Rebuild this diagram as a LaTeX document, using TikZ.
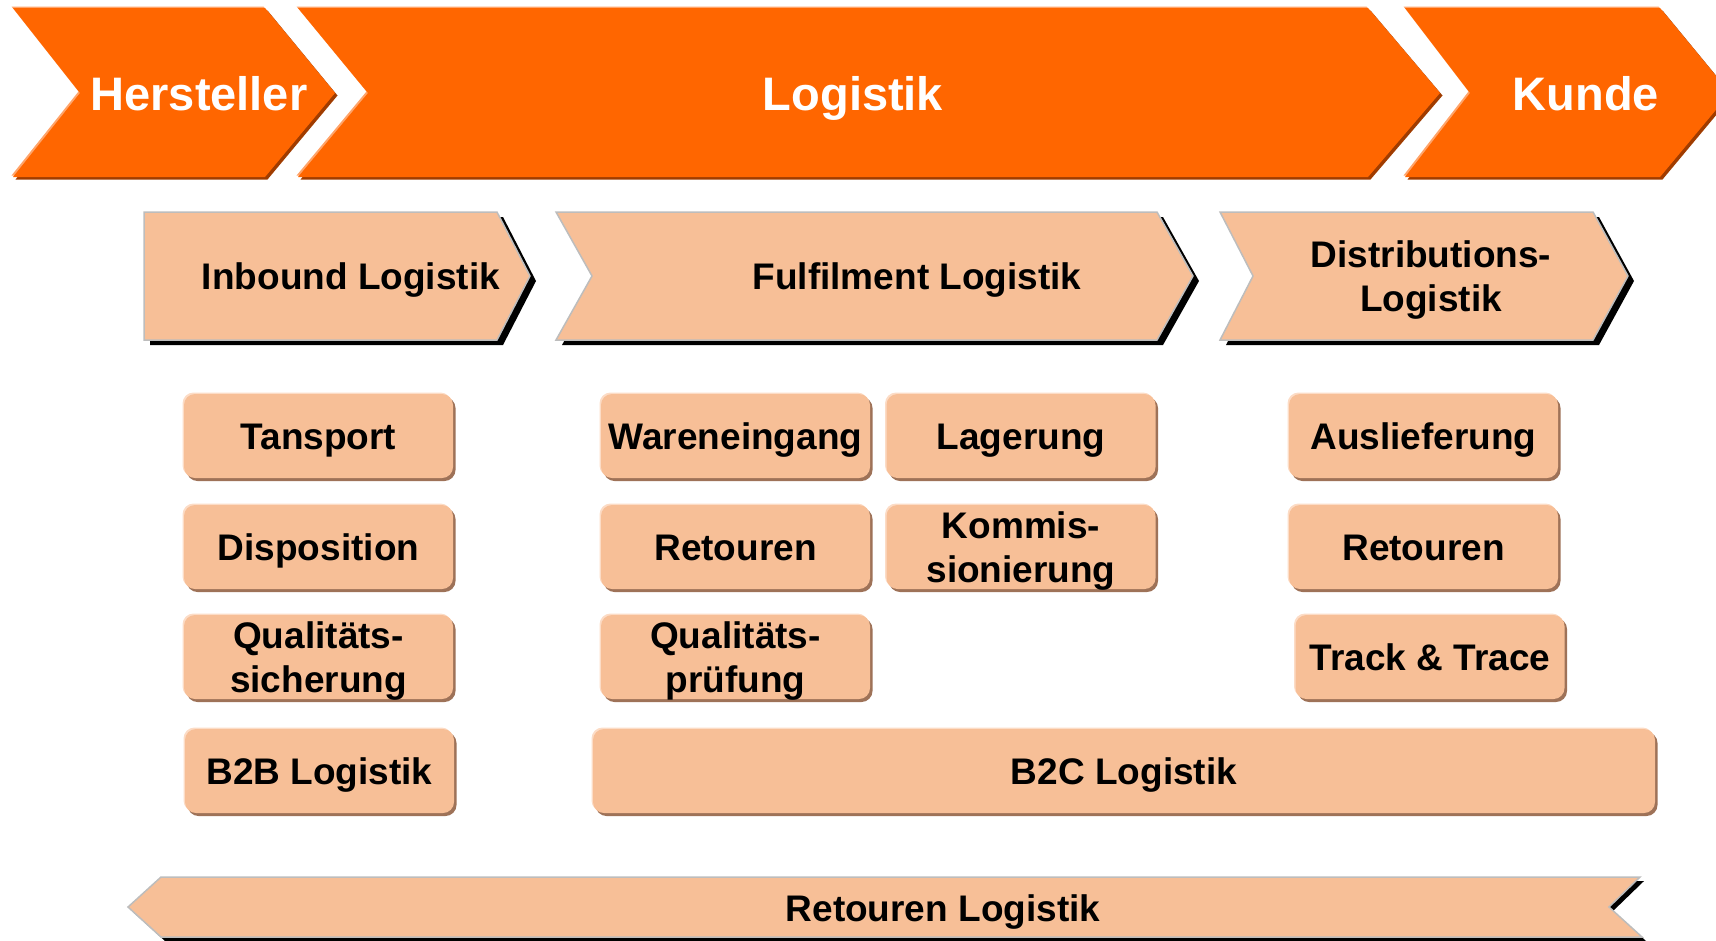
\documentclass[tikz,border=0pt]{standalone}
\usepackage{fontspec}
\setmainfont{Liberation Sans}
\usetikzlibrary{shadows}
\definecolor{orng}{HTML}{FF6600}
\definecolor{orngdark}{HTML}{A03C00}
\definecolor{ornglight}{HTML}{FFA46A}
\definecolor{peach}{HTML}{F7BF97}
\definecolor{peachdark}{HTML}{9E7258}
\definecolor{peachlight}{HTML}{FCDCC6}
\definecolor{chevborder}{HTML}{BDBDBD}
\begin{document}
\begin{tikzpicture}[x=1pt,y=-1pt,
  toptext/.style={text=white, font=\fontsize{47}{54}\selectfont\bfseries, inner sep=0pt, anchor=base},
  midtext/.style={text=black, font=\fontsize{37}{44}\selectfont\bfseries, inner sep=0pt, align=center},
  chevfill/.style={fill=peach, draw=chevborder, line width=1.5pt, line join=miter},
  chevshadow/.style={fill=black},
  boxbase/.style={fill=peach, rounded corners=11pt, minimum height=84pt, inner sep=0pt,
    general shadow={fill=peachdark, shadow xshift=2.5pt, shadow yshift=-3pt},
    general shadow={fill=peachlight, shadow xshift=-1.5pt, shadow yshift=1.5pt}},
  box/.style={boxbase, minimum width=269pt, font=\fontsize{37}{44}\selectfont\bfseries,
    text height=26.5pt, text depth=0pt},
  twoline/.style={font=\fontsize{37}{44}\selectfont\bfseries, align=center, inner sep=0pt}
]
\useasboundingbox (0,0) rectangle (1716,940);
\clip (0,0) rectangle (1716,940);

% ---------- top orange chevrons ----------
\foreach \dx/\dy/\col in {2.5/2.5/orngdark, -1.5/-1.5/ornglight, 0/0/orng}{
  \fill[\col, shift={(\dx,\dy)}] (13,8) -- (265,8) -- (335,93) -- (265,177) -- (13,177) -- (80,93) -- cycle;
  \fill[\col, shift={(\dx,\dy)}] (298,8) -- (1368,8) -- (1440,93) -- (1368,177) -- (298,177) -- (368,93) -- cycle;
  \fill[\col, shift={(\dx,\dy)}] (1405,8) -- (1660,8) -- (1730,93) -- (1660,177) -- (1405,177) -- (1470,93) -- cycle;
}
\node[toptext] (herst) at (199,110) {Hersteller};
\node[toptext] (logist) at (853,110) {Logistik};
\node[toptext] (kunde) at (1586,110) {Kunde};

% ---------- second row chevrons ----------
\fill[chevshadow, shift={(6,5)}] (144,212) -- (497,212) -- (530,276) -- (497,340) -- (144,340) -- cycle;
\path[chevfill] (144,212) -- (497,212) -- (530,276) -- (497,340) -- (144,340) -- cycle;
\fill[chevshadow, shift={(6,5)}] (556,212) -- (1157,212) -- (1193,276) -- (1157,340) -- (556,340) -- (592,276) -- cycle;
\path[chevfill] (556,212) -- (1157,212) -- (1193,276) -- (1157,340) -- (556,340) -- (592,276) -- cycle;
\fill[chevshadow, shift={(6,5)}] (1220,212) -- (1593,212) -- (1628,276) -- (1593,340) -- (1220,340) -- (1253,276) -- cycle;
\path[chevfill] (1220,212) -- (1593,212) -- (1628,276) -- (1593,340) -- (1220,340) -- (1253,276) -- cycle;

\node[midtext, anchor=base] (inbound) at (351,289) {Inbound Logistik};
\node[midtext, anchor=base] (fulfil) at (917,289) {Fulfilment Logistik};
\node[midtext] (distrib) at (1431,280) {Distributions-\\Logistik};

% ---------- boxes ----------
\node[box] (tansport) at (318.5,436) {Tansport};
\node[box] (dispo) at (318.5,547) {Disposition};
\node[box] (qsich) at (318.5,657) {};
\node[twoline] (qsichtext) at ([yshift=-4pt]qsich.center) {Qualitäts-\\sicherung};
\node[box] (b2b) at (319.5,771) {B2B Logistik};

\node[box] (waren) at (735.5,436) {Wareneingang};
\node[box] (retour1) at (735.5,547) {Retouren};
\node[box] (qpruef) at (735.5,657) {};
\node[twoline] (qprueftext) at ([yshift=-4pt]qpruef.center) {Qualitäts-\\prüfung};

\node[box] (lager) at (1021,436) {Lagerung};
\node[box] (kommis) at (1021,547) {};
\node[twoline] (kommistext) at ([yshift=-4pt]kommis.center) {Kommis-\\sionierung};

\node[box] (ausl) at (1423.5,436) {Auslieferung};
\node[box] (retour2) at (1423.5,547) {Retouren};
\node[box] (track) at (1430,657) {Track \& Trace};

\node[box, minimum width=1062pt] (b2c) at (1124,771) {B2C Logistik};

% ---------- Retouren Logistik bar ----------
\fill[chevshadow, shift={(4,4)}] (128,907) -- (161,877) -- (1640,877) -- (1609,907) -- (1642,937) -- (161,937) -- cycle;
\path[chevfill] (128,907) -- (161,877) -- (1640,877) -- (1609,907) -- (1642,937) -- (161,937) -- cycle;
\node[midtext, anchor=base] (retlog) at (943,921) {Retouren Logistik};
\end{tikzpicture}
\end{document}
